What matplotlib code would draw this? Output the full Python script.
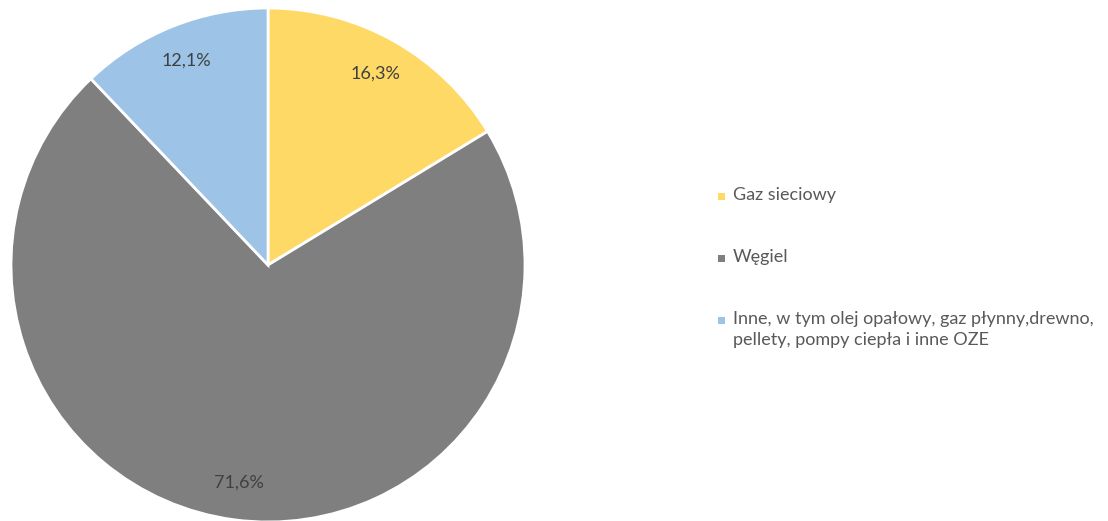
import matplotlib
matplotlib.use("Agg")
import matplotlib.pyplot as plt
from matplotlib.patches import Rectangle

plt.rcParams['font.family'] = ['Lato', 'DejaVu Sans']

# dane
kategorie = ["Gaz sieciowy", "Węgiel",
             "Inne, w tym olej opałowy, gaz płynny,drewno,\npellety, pompy ciepła i inne OZE"]
udzialy = [16.3, 71.6, 12.1]
etykiety = ["16,3%", "71,6%", "12,1%"]
kolory = ["#FFD966", "#7F7F7F", "#9DC3E6"]

W, H = 1108, 521
fig = plt.figure(figsize=(W / 100, H / 100), dpi=100)
ax = fig.add_axes([11 / W, -1 / H, 514 / W, 514 / H])

wedges, teksty = ax.pie(udzialy, colors=kolory, startangle=90, counterclock=False,
                        labels=etykiety, labeldistance=0.855,
                        wedgeprops=dict(edgecolor="white", linewidth=2),
                        textprops=dict(color="#404040", fontsize=13,
                                       ha="center", va="center"))
ax.set_xlim(-1, 1)
ax.set_ylim(-1, 1)
ax.set_aspect("equal")

# legenda rysowana recznie (kwadrat przy pierwszej linii)
y0 = 195
for i, (nazwa, kol) in enumerate(zip(kategorie, kolory)):
    y = y0 + i * 62
    fig.add_artist(Rectangle((718 / W, 1 - (y + 5) / H), 7 / W, 7 / H,
                             transform=fig.transFigure, facecolor=kol,
                             edgecolor="none"))
    fig.text(733 / W, 1 - (y - 8) / H, nazwa, fontsize=13, color="#595959",
             va="top", ha="left", linespacing=1.4)

fig.savefig("out.png", dpi=100)
